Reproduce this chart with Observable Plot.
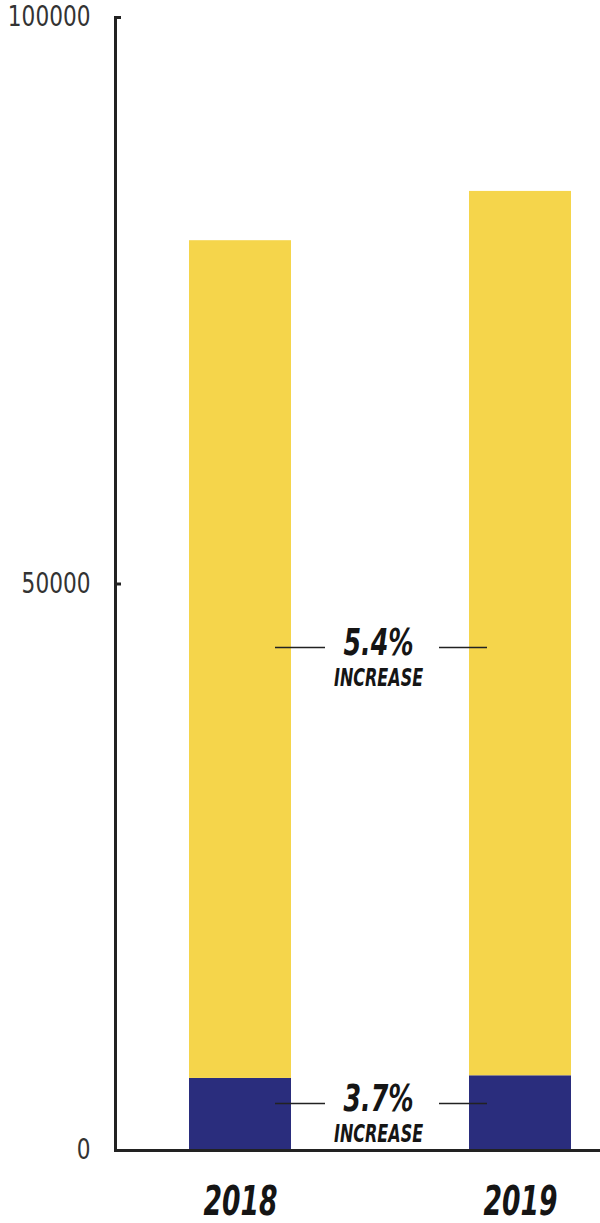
<!DOCTYPE html>
<html><head><meta charset="utf-8">
<script src="https://cdn.jsdelivr.net/npm/d3@7"></script>
<script src="https://cdn.jsdelivr.net/npm/@observablehq/plot@0.6"></script>
<style>body{margin:0;background:#fff}</style>
</head><body><div id="chart"></div>
<script>
const years = ["2018", "2019"];
const baseValues = [6360, 6595];
const topValues = [73940, 78055];
const yTicks = [0, 50000, 100000];
const annotLabels = ["5.4%", "3.7%"];
const annotSub = ["INCREASE", "INCREASE"];
const annotValues = [44400, 4150];

const rows = years.flatMap((y, i) => [
  {year: y, part: "base", value: baseValues[i]},
  {year: y, part: "top", value: topValues[i]}
]);
const ann = annotLabels.map((l, i) => ({label: l, sub: annotSub[i], value: annotValues[i]}));

const font = "'DejaVu Sans Condensed', 'DejaVu Sans', sans-serif";
const ink = "#151515";

const plot = Plot.plot({
  width: 600, height: 1223,
  marginLeft: 115, marginRight: 0, marginTop: 17, marginBottom: 73,
  style: {fontFamily: font, background: "#fff", overflow: "visible"},
  x: {domain: years, range: [189, 571], paddingInner: 0.636, paddingOuter: 0},
  y: {domain: [0, 100000]},
  color: {domain: ["base", "top"], range: ["#2a2d7d", "#f5d54b"]},
  marks: [
    Plot.barY(rows, {x: "year", y: "value", fill: "part"}),
    Plot.frame({anchor: "left", stroke: "#222", strokeWidth: 3}),
    Plot.ruleY([0], {stroke: "#222", strokeWidth: 3}),
    Plot.axisY(yTicks, {
      tickSize: -6, tickPadding: 31, strokeWidth: 3, stroke: "#222",
      tickFormat: d => String(d), fontSize: 28, fill: "#333", label: null
    }),
    Plot.axisX({
      tickSize: 0, tickPadding: 36, fontSize: 40, fontWeight: "bold",
      fontStyle: "italic", fill: ink, label: null
    }),
    Plot.tickY(ann, {x: () => years[0], y: "value", dx: 86, insetRight: 52, stroke: "#222", strokeWidth: 1.5}),
    Plot.tickY(ann, {x: () => years[1], y: "value", dx: -30, insetRight: 54, stroke: "#222", strokeWidth: 1.5}),
    Plot.text(ann, {x: () => years[0], y: "value", text: "label", dx: 138, dy: 8, lineAnchor: "bottom",
      fontSize: 38, fontWeight: "bold", fontStyle: "italic", fill: ink}),
    Plot.text(ann, {x: () => years[0], y: "value", text: "sub", dx: 138, dy: 39, lineAnchor: "bottom",
      fontSize: 24, fontWeight: "bold", fontStyle: "italic", fill: ink})
  ]
});
document.getElementById("chart").append(plot);

// condense the lettering horizontally around each text's anchor point
d3.select(plot).selectAll("text").each(function() {
  const cs = getComputedStyle(this);
  const bold = cs.fontWeight === "700" || cs.fontWeight === "bold";
  const s = bold ? 0.74 : 0.86;
  const b = this.getBBox();
  const anchor = cs.textAnchor;
  const ax = anchor === "end" ? b.x + b.width : anchor === "middle" ? b.x + b.width / 2 : b.x;
  const tr = this.getAttribute("transform") || "";
  this.setAttribute("transform", `${tr} translate(${ax},0) scale(${s},1) translate(${-ax},0)`);
});
</script>
</body></html>
